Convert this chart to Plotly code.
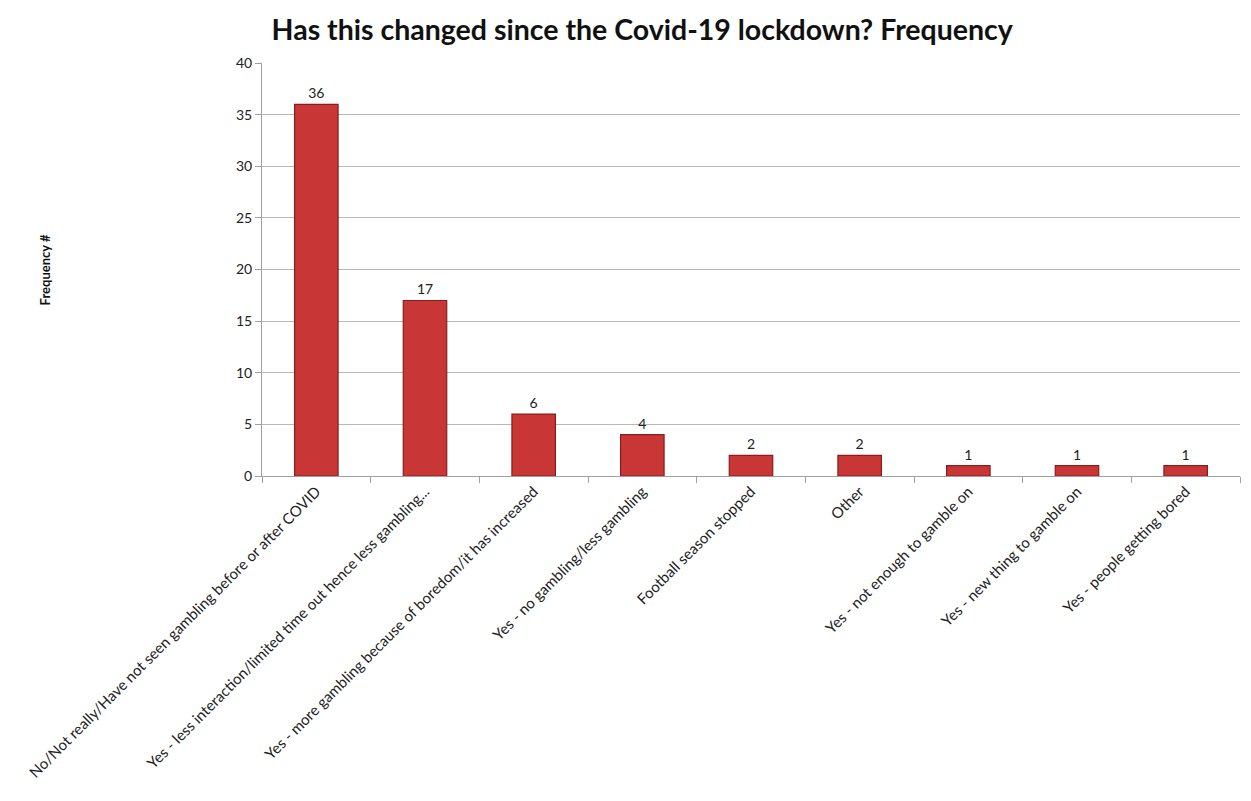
import plotly.graph_objects as go

categories = [
    "No/Not really/Have not seen gambling before or after COVID",
    "Yes - less interaction/limited time out hence less gambling...",
    "Yes - more gambling because of boredom/it has increased",
    "Yes - no gambling/less gambling",
    "Football season stopped",
    "Other",
    "Yes - not enough to gamble on",
    "Yes - new thing to gamble on",
    "Yes - people getting bored",
]
values = [36, 17, 6, 4, 2, 2, 1, 1, 1]
y_ticks = [0, 5, 10, 15, 20, 25, 30, 35, 40]

FONT = "Lato, 'Open Sans', sans-serif"

fig = go.Figure(go.Bar(
    x=categories,
    y=values,
    width=0.4,
    marker=dict(color="#c93636", line=dict(color="#8a1c1c", width=1.2)),
    text=[str(v) for v in values],
    textposition="outside",
    textfont=dict(size=14, color="#222", family=FONT),
    cliponaxis=False,
))

fig.update_layout(
    width=1251, height=801,
    paper_bgcolor="white", plot_bgcolor="white",
    margin=dict(l=254, r=19, t=55, b=333, autoexpand=False),
    showlegend=False,
    title=dict(text="<b>Has this changed since the Covid-19 lockdown? Frequency</b>",
               x=0.507, xanchor="center", y=0.973, yanchor="middle",
               font=dict(size=28.5, color="#111", family=FONT)),
    font=dict(family=FONT, color="#222"),
    annotations=[dict(text="<b>Frequency #</b>", textangle=-90,
                      x=-0.222, y=0.5, xanchor="center", yanchor="middle",
                      xref="paper", yref="paper", showarrow=False,
                      font=dict(size=13, color="#111", family=FONT))],
)

fig.update_xaxes(
    type="category", tickangle=-45, tickfont=dict(size=15, color="#222"),
    showline=True, linecolor="#a0a0a0", linewidth=1,
    ticks="outside", tickson="boundaries", ticklen=6, tickcolor="#a0a0a0",
    showgrid=False, automargin=False,
)
fig.update_yaxes(
    range=[0, 40], tickvals=y_ticks, tickfont=dict(size=14, color="#222"),
    showline=True, linecolor="#a0a0a0", linewidth=1,
    ticks="outside", ticklen=6, tickcolor="#a0a0a0",
    showgrid=True, gridcolor="#b8b8b8", gridwidth=1, zeroline=False,
    automargin=False,
)

fig.write_html("out.html")
